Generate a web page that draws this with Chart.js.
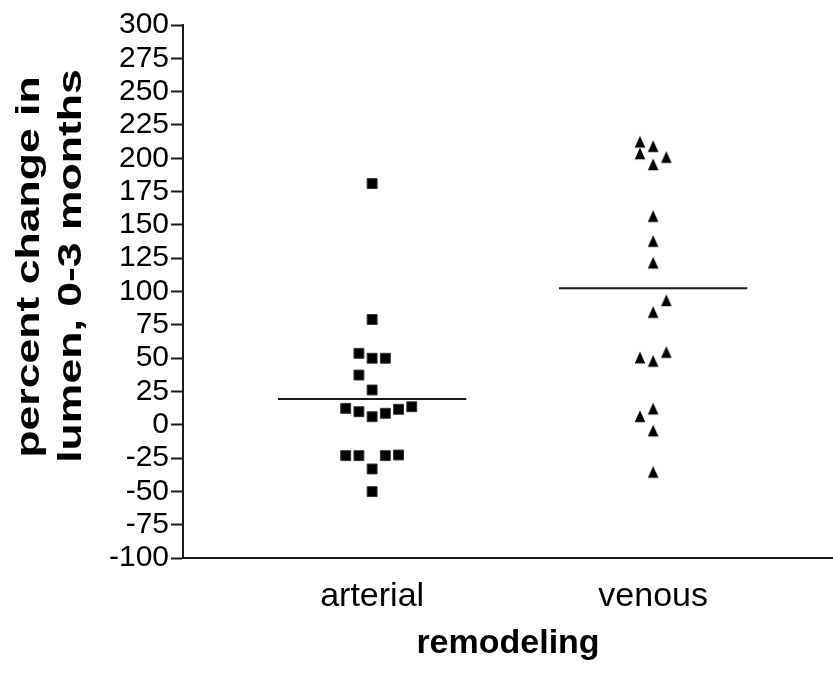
<!DOCTYPE html>
<html>
<head>
<meta charset="utf-8">
<script src="https://cdn.jsdelivr.net/npm/chart.js@4"></script>
<style>
  body { margin: 0; background: #fff; }
</style>
</head>
<body>
<canvas id="scatterChart" width="833" height="673"></canvas>
<script>
// groups on the x axis
const categories = ['arterial', 'venous'];

// percent change values
const arterialValues = [181, 79, 53.6, 49.9, 49.9, 37.3, 26.1, 12.3, 9.8, 6.0, 8.6, 11.6, 13.5, -23.2, -23.2, -33.2, -23.2, -22.7, -50.2];
// horizontal jitter slot of each point (-2 .. 3)
const arterialJitter = [0, 0, -1, 0, 1, -1, 0, -2, -1, 0, 1, 2, 3, -2, -1, 0, 1, 2, 0];

const venousValues = [210.8, 207.5, 202, 199.3, 193.8, 155, 136.3, 120, 91.8, 83, 53, 48.8, 46.3, 10.5, 4.8, -6, -37];
const venousJitter = [-1, 0, -1, 1, 0, 0, 0, 0, 1, 0, 1, -1, 0, 0, -1, 0, 0];

// group mean lines as drawn in the picture
const meanValues = [19.3, 102.5];

// y axis tick range
const yMin = -100;
const yMax = 300;
const yStep = 25;

const yTitleLines = ['percent change in', 'lumen, 0-3 months'];
const xTitle = 'remodeling';

const fontFamily = "'Liberation Sans', Arial, Helvetica, sans-serif";
const ink = '#1a1a1a';
const jitterStep = 0.047;
const meanHalfWidth = 0.335;

// small upright triangle used as the venous marker
function makeTriangle() {
    const c = document.createElement('canvas');
    c.width = 12;
    c.height = 17;
    const g = c.getContext('2d');
    g.fillStyle = '#000';
    g.beginPath();
    g.moveTo(6, 0.5);
    g.lineTo(11.3, 12.3);
    g.lineTo(0.7, 12.3);
    g.closePath();
    g.fill();
    return c;
}

function toPoints(values, jitter, index) {
    return values.map((v, i) => ({ x: index + 1 + jitter[i] * jitterStep, y: v }));
}

function meanLine(index) {
    const m = meanValues[index];
    return [{ x: index + 1 - meanHalfWidth, y: m }, { x: index + 1 + meanHalfWidth, y: m }];
}

// rotated two-line y title, drawn a little wider like the original
const yTitlePlugin = {
    id: 'yTitle',
    afterDraw(chart) {
        const ctx = chart.ctx;
        const spots = [[39, 267], [81, 266]];
        ctx.save();
        ctx.fillStyle = '#000';
        ctx.font = 'bold 33px ' + fontFamily;
        ctx.textAlign = 'center';
        ctx.textBaseline = 'alphabetic';
        yTitleLines.forEach((line, i) => {
            ctx.save();
            ctx.translate(spots[i][0], spots[i][1]);
            ctx.rotate(-Math.PI / 2);
            ctx.scale(1.35, 1);
            ctx.fillText(line, 0, 0);
            ctx.restore();
        });
        ctx.restore();
    }
};

const ctx = document.getElementById('scatterChart').getContext('2d');

const scatterChart = new Chart(ctx, {
    type: 'scatter',
    data: {
        datasets: [
            {
                label: categories[0],
                data: toPoints(arterialValues, arterialJitter, 0),
                pointStyle: 'rect',
                pointRadius: 7,
                backgroundColor: '#000',
                borderColor: '#333',
                borderWidth: 1
            },
            {
                label: categories[1],
                data: toPoints(venousValues, venousJitter, 1),
                pointStyle: makeTriangle(),
                pointRadius: 7,
                backgroundColor: '#000',
                borderColor: '#000'
            },
            {
                label: 'mean ' + categories[0],
                data: meanLine(0),
                showLine: true,
                pointRadius: 0,
                borderColor: ink,
                borderWidth: 2
            },
            {
                label: 'mean ' + categories[1],
                data: meanLine(1),
                showLine: true,
                pointRadius: 0,
                borderColor: ink,
                borderWidth: 2
            }
        ]
    },
    options: {
        responsive: false,
        animation: false,
        layout: {
            autoPadding: false,
            padding: { left: 0, right: 0, top: 25, bottom: 0 }
        },
        plugins: {
            legend: { display: false },
            tooltip: { enabled: false }
        },
        scales: {
            x: {
                type: 'linear',
                min: 0.327,
                max: 2.64,
                afterBuildTicks: (scale) => {
                    scale.ticks = categories.map((c, i) => ({ value: i + 1 }));
                },
                afterFit: (scale) => {
                    scale.height = 115;
                    scale.paddingLeft = 0;
                    scale.paddingRight = 0;
                },
                grid: { display: false, drawTicks: false },
                border: { display: true, color: ink, width: 2 },
                ticks: {
                    padding: 18,
                    color: '#000',
                    font: { family: fontFamily, size: 34 },
                    callback: (value) => categories[value - 1] || ''
                },
                title: {
                    display: true,
                    text: xTitle,
                    color: '#000',
                    font: { family: fontFamily, size: 34, weight: 'bold' },
                    padding: { top: 0, bottom: 9 }
                }
            },
            y: {
                type: 'linear',
                min: yMin,
                max: yMax,
                afterFit: (scale) => {
                    scale.width = 183;
                    scale.paddingTop = 0;
                    scale.paddingBottom = 0;
                },
                grid: {
                    drawOnChartArea: false,
                    drawTicks: true,
                    tickLength: 12,
                    tickWidth: 2,
                    tickColor: ink
                },
                border: { display: true, color: ink, width: 2 },
                ticks: {
                    stepSize: yStep,
                    autoSkip: false,
                    padding: 2,
                    color: '#000',
                    font: { family: fontFamily, size: 30 }
                }
            }
        }
    },
    plugins: [yTitlePlugin]
});
</script>
</body>
</html>
